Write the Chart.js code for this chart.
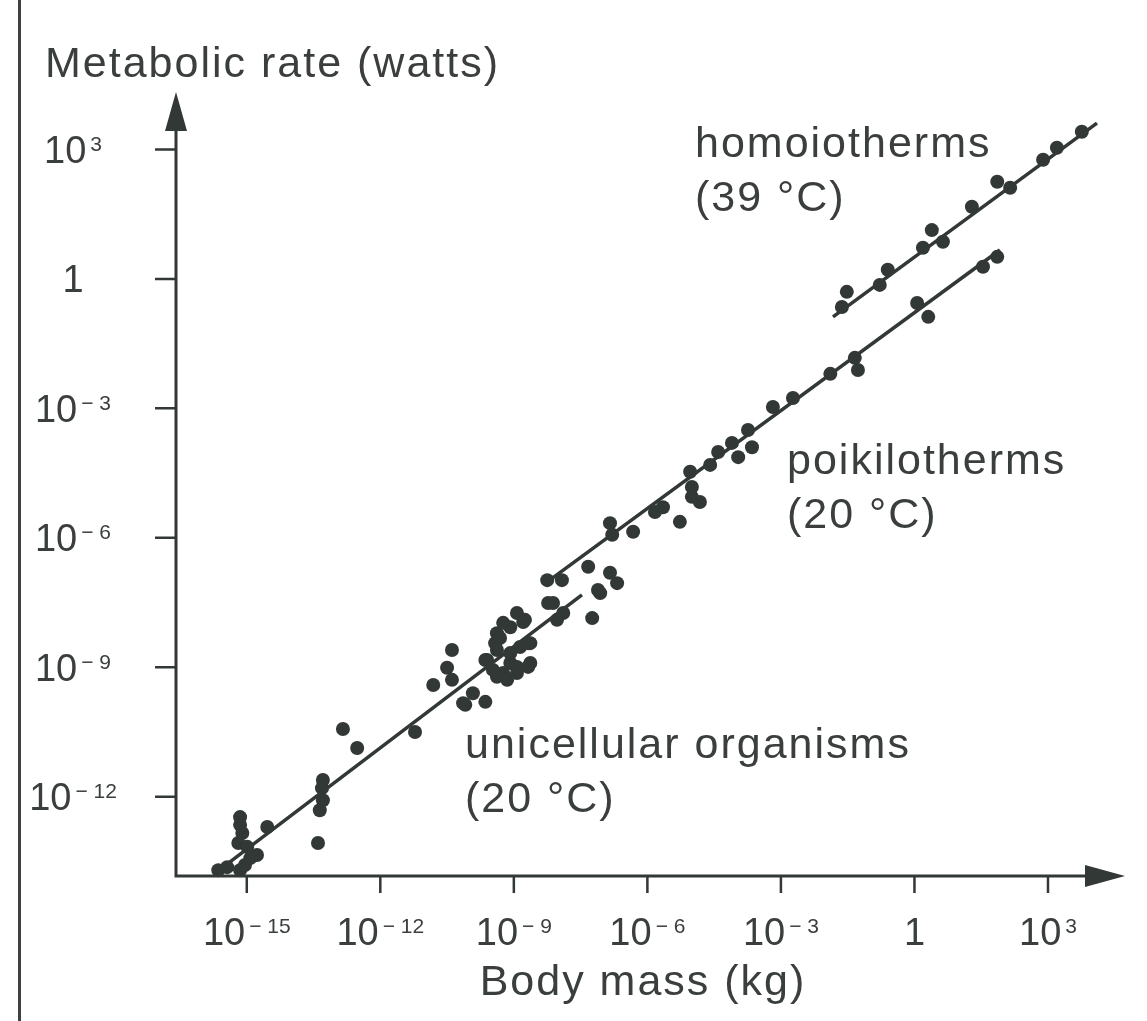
<!DOCTYPE html>
<html lang="en">
<head>
<meta charset="UTF-8">
<title>Metabolic rate vs body mass</title>
<script src="https://cdn.jsdelivr.net/npm/chart.js"></script>
<style>
    body { margin: 0; background: #fff; }
    .page { position: relative; width: 1147px; height: 1021px; overflow: hidden; }
    .page .edge {
        position: absolute; left: 18px; top: 0; bottom: 0;
        border-left: 3px solid #3d423f;
    }
    canvas { display: block; }
</style>
</head>
<body>
<div class="page">
    <canvas id="chart" width="1147" height="1021"></canvas>
    <div class="edge"></div>
</div>
<script>
// all values are log10
// body mass in kg, metabolic rate in watts

// unicellular organisms (20 °C)
const uniLogMass = [-15.15, -15.15, -15.10, -15.19, -14.99, -14.77, -14.92, -15.44, -15.15, -15.04, -14.54, -15.64,
    -12.84, -12.52, -11.22, -13.29, -13.31, -13.29, -13.36, -13.40,
    -10.39, -10.50, -10.39, -10.81, -10.09, -9.92, -9.64, -10.14,
    -9.64, -9.42, -9.38, -9.24, -8.93, -8.75, -8.63, -8.68, -9.24, -9.08, -9.38, -9.15, -8.93,
    -9.08, -9.31, -9.38, -9.60, -9.47, -8.93, -8.63, -8.86, -8.68, -9.08, -8.79,
    -8.23, -8.12, -7.89, -8.03, -7.24];
const uniLogRate = [-12.47, -12.65, -12.84, -13.07, -13.16, -13.35, -13.42, -13.63, -13.70, -13.58, -12.70, -13.70,
    -10.43, -10.87, -10.50, -11.61, -11.80, -12.08, -12.31, -13.07,
    -8.60, -9.01, -9.29, -9.41, -9.87, -9.60, -9.80, -9.83,
    -8.83, -8.44, -8.21, -7.97, -7.74, -7.90, -8.44, -8.99, -9.13, -8.90, -9.22, -9.29, -9.13,
    -8.07, -8.32, -8.60, -8.83, -9.06, -8.99, -8.90, -8.53, -8.44, -8.67, -7.95,
    -7.51, -7.51, -7.74, -7.90, -7.86];

// poikilotherms (20 °C)
const poiLogMass = [-8.25, -7.92, -7.33, -6.84, -6.68, -7.06, -7.11, -6.84, -6.79, -6.32, -5.65, -5.83,
    -5.27, -5.04, -5.00, -5.00, -4.82, -4.59, -4.41, -4.10, -3.96, -3.74, -3.65, -3.18,
    -2.73, -1.89, -1.34, -1.27, 0.06, 0.31, 1.54, 1.86];
const poiLogRate = [-6.98, -6.98, -6.67, -6.81, -7.05, -7.28, -7.21, -5.66, -5.93, -5.86, -5.29, -5.40,
    -5.63, -4.47, -4.82, -5.05, -5.17, -4.31, -4.01, -3.80, -4.13, -3.50, -3.90, -2.97,
    -2.76, -2.20, -1.83, -2.11, -0.56, -0.88, 0.28, 0.51];

// homoiotherms (39 °C)
const homLogMass = [-1.63, -1.52, -0.78, -0.60, 0.19, 0.39, 0.64, 1.29, 1.86, 2.15, 2.89, 3.20, 3.76];
const homLogRate = [-0.65, -0.30, -0.14, 0.21, 0.72, 1.13, 0.86, 1.67, 2.25, 2.11, 2.76, 3.04, 3.41];

// fitted lines, end points
const uniFitLogMass = [-15.71, -7.47];
const uniFitLogRate = [-13.77, -7.32];
const poiFitLogMass = [-8.25, 1.92];
const poiFitLogRate = [-7.02, 0.67];
const homFitLogMass = [-1.83, 4.10];
const homFitLogRate = [-0.88, 3.61];

// axes
const xLogRange = [-16.59, 4.73];
const yLogRange = [-13.835, 4.33];
const xTickValues = [1e-15, 1e-12, 1e-9, 1e-6, 1e-3, 1, 1e3];
const xTickBase = ['10', '10', '10', '10', '10', '1', '10'];
const xTickSup = ['− 15', '− 12', '− 9', '− 6', '− 3', '', '3'];
const yTickValues = [1e3, 1, 1e-3, 1e-6, 1e-9, 1e-12];
const yTickBase = ['10', '1', '10', '10', '10', '10'];
const yTickSup = ['3', '', '− 3', '− 6', '− 9', '− 12'];

const xTitle = 'Body mass (kg)';
const yTitle = 'Metabolic rate (watts)';
const groupLabels = [
    ['homoiotherms', '(39 °C)'],
    ['poikilotherms', '(20 °C)'],
    ['unicellular organisms', '(20 °C)']
];

const ink = '#323835';
const textInk = '#3a3f3c';
const family = '"Liberation Sans", Arial, Helvetica, sans-serif';

function toPoints(logMass, logRate) {
    return logMass.map((m, i) => ({ x: Math.pow(10, m), y: Math.pow(10, logRate[i]) }));
}

function dots(data) {
    return {
        type: 'scatter', data: data, clip: false,
        pointRadius: 7, pointBackgroundColor: ink, pointBorderWidth: 0, showLine: false
    };
}

function fitLine(data) {
    return {
        type: 'line', data: data, clip: false,
        borderColor: ink, borderWidth: 3.5, pointRadius: 0, tension: 0
    };
}

function drawPow(ctx, base, sup, cx, cy) {
    const big = '38px ' + family;
    const small = '21px ' + family;
    ctx.font = big;
    const wb = ctx.measureText(base).width;
    ctx.font = small;
    const ws = sup ? ctx.measureText(sup).width + 4 : 0;
    const x0 = cx - (wb + ws) / 2;
    ctx.textAlign = 'left';
    ctx.textBaseline = 'alphabetic';
    ctx.font = big;
    ctx.fillText(base, x0, cy + 13.5);
    if (sup) {
        ctx.font = small;
        ctx.fillText(sup, x0 + wb + 4, cy + 1.5);
    }
}

const axesPlugin = {
    id: 'drawnAxes',
    beforeDatasetsDraw(chart) {
        const ctx = chart.ctx;
        const a = chart.chartArea;
        const xs = chart.scales.x, ys = chart.scales.y;
        ctx.save();
        ctx.strokeStyle = ink;
        ctx.fillStyle = ink;
        ctx.lineWidth = 3;
        ctx.lineCap = 'butt';
        // axis lines
        ctx.beginPath();
        ctx.moveTo(a.left, a.top + 30);
        ctx.lineTo(a.left, a.bottom);
        ctx.lineTo(a.right - 30, a.bottom);
        ctx.stroke();
        // arrow heads
        ctx.beginPath();
        ctx.moveTo(a.left, a.top);
        ctx.lineTo(a.left - 11, a.top + 39);
        ctx.lineTo(a.left + 11, a.top + 39);
        ctx.closePath();
        ctx.fill();
        ctx.beginPath();
        ctx.moveTo(a.right, a.bottom);
        ctx.lineTo(a.right - 40, a.bottom - 11);
        ctx.lineTo(a.right - 40, a.bottom + 11);
        ctx.closePath();
        ctx.fill();
        // tick marks
        ctx.lineWidth = 2.5;
        ctx.beginPath();
        xTickValues.forEach(v => {
            const px = xs.getPixelForValue(v);
            ctx.moveTo(px, a.bottom);
            ctx.lineTo(px, a.bottom + 17);
        });
        yTickValues.forEach(v => {
            const py = ys.getPixelForValue(v);
            ctx.moveTo(a.left, py);
            ctx.lineTo(a.left - 21, py);
        });
        ctx.stroke();
        ctx.restore();
    },
    afterDraw(chart) {
        const ctx = chart.ctx;
        const xs = chart.scales.x, ys = chart.scales.y;
        ctx.save();
        ctx.fillStyle = textInk;
        // tick labels
        xTickValues.forEach((v, i) => {
            drawPow(ctx, xTickBase[i], xTickSup[i], xs.getPixelForValue(v), 931);
        });
        yTickValues.forEach((v, i) => {
            drawPow(ctx, yTickBase[i], yTickSup[i], 73, ys.getPixelForValue(v));
        });
        // titles and group labels
        ctx.font = '43px ' + family;
        ctx.letterSpacing = '2px';
        ctx.textBaseline = 'alphabetic';
        ctx.textAlign = 'left';
        ctx.fillText(yTitle, 45, 77);
        ctx.textAlign = 'center';
        ctx.fillText(xTitle, 643, 995);
        ctx.textAlign = 'left';
        const spots = [[695, 157], [787, 474], [465, 758]];
        groupLabels.forEach((lines, i) => {
            ctx.fillText(lines[0], spots[i][0], spots[i][1]);
            ctx.fillText(lines[1], spots[i][0], spots[i][1] + 54);
        });
        ctx.restore();
    }
};

new Chart(document.getElementById('chart'), {
    data: {
        datasets: [
            fitLine(toPoints(uniFitLogMass, uniFitLogRate)),
            fitLine(toPoints(poiFitLogMass, poiFitLogRate)),
            fitLine(toPoints(homFitLogMass, homFitLogRate)),
            dots(toPoints(uniLogMass, uniLogRate)),
            dots(toPoints(poiLogMass, poiLogRate)),
            dots(toPoints(homLogMass, homLogRate))
        ]
    },
    options: {
        responsive: false,
        animation: false,
        devicePixelRatio: 1,
        layout: { padding: { left: 176, right: 22, top: 92, bottom: 145 } },
        plugins: { legend: { display: false }, tooltip: { enabled: false } },
        scales: {
            x: {
                type: 'logarithmic', display: false, bounds: 'data',
                min: Math.pow(10, xLogRange[0]), max: Math.pow(10, xLogRange[1])
            },
            y: {
                type: 'logarithmic', display: false, bounds: 'data',
                min: Math.pow(10, yLogRange[0]), max: Math.pow(10, yLogRange[1])
            }
        }
    },
    plugins: [axesPlugin]
});
</script>
</body>
</html>
